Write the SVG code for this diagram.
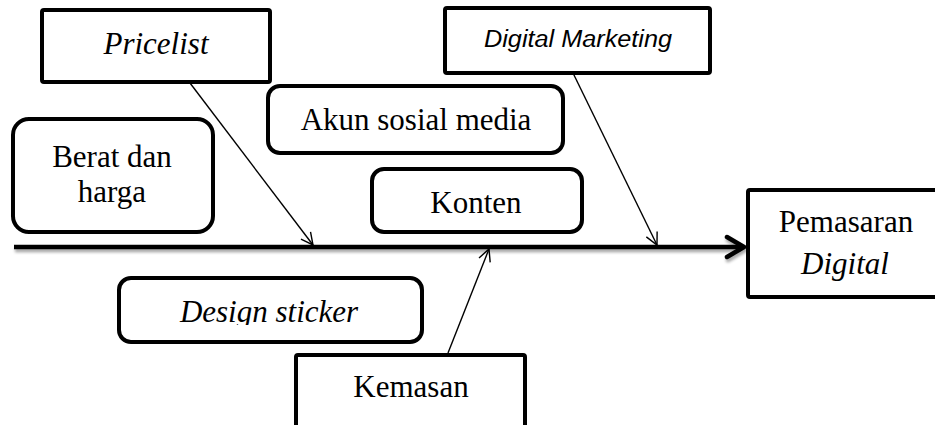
<svg xmlns="http://www.w3.org/2000/svg" width="935" height="425" viewBox="0 0 935 425">
  <style>
    .box { fill: #fff; stroke: #000; stroke-width: 4; }
    .serif { font-family: "Liberation Serif", "Times New Roman", serif; font-size: 31px; fill: #000; }
    .it { font-style: italic; }
    .sans { font-family: "Liberation Sans", Arial, sans-serif; font-size: 23px; font-style: italic; fill: #000; }
    .thin { fill: none; stroke: #000; stroke-width: 1.4; }
  </style>
  <defs>
    <marker id="open" viewBox="0 0 14 14" refX="13" refY="7" markerWidth="14" markerHeight="14" markerUnits="userSpaceOnUse" orient="auto">
      <path d="M1,1 L13,7 L1,13" fill="none" stroke="#000" stroke-width="1.4"/>
    </marker>
    <filter id="shadow" x="-5%" y="-50%" width="110%" height="300%">
      <feGaussianBlur in="SourceAlpha" stdDeviation="1.5"/>
      <feOffset dx="1" dy="3" result="b"/>
      <feComponentTransfer><feFuncA type="linear" slope="0.35"/></feComponentTransfer>
      <feMerge><feMergeNode/><feMergeNode in="SourceGraphic"/></feMerge>
    </filter>
    <clipPath id="stickerClip">
      <rect x="118" y="277" width="304" height="48"/>
    </clipPath>
  </defs>

  <!-- spine of the diagram -->
  <g id="connectors">
    <g filter="url(#shadow)">
      <line x1="14" y1="247" x2="743" y2="247" stroke="#000" stroke-width="4.5"/>
      <path d="M727,237 L744,247 L727,257" fill="none" stroke="#000" stroke-width="4.5" stroke-linecap="round" stroke-linejoin="round"/>
    </g>
    <line class="thin" x1="190" y1="83" x2="313" y2="245" marker-end="url(#open)"/>
    <line class="thin" x1="573" y1="73" x2="657" y2="245" marker-end="url(#open)"/>
    <line class="thin" x1="448" y1="353" x2="489" y2="249" marker-end="url(#open)"/>
  </g>

  <g id="pricelist">
    <rect class="box" x="42" y="10" width="228" height="72" rx="2"/>
    <text class="serif it" x="156" y="54" text-anchor="middle">Pricelist</text>
  </g>

  <g id="berat-harga">
    <rect class="box" x="13" y="119" width="200" height="113" rx="16"/>
    <text class="serif" x="112" y="167" text-anchor="middle">Berat dan</text>
    <text class="serif" x="112" y="202" text-anchor="middle">harga</text>
  </g>

  <g id="akun-sosial-media">
    <rect class="box" x="268" y="86" width="295" height="67" rx="12"/>
    <text class="serif" x="416" y="130" text-anchor="middle">Akun sosial media</text>
  </g>

  <g id="konten">
    <rect class="box" x="372" y="169" width="210" height="63" rx="12"/>
    <text class="serif" x="476" y="213" text-anchor="middle">Konten</text>
  </g>

  <g id="digital-marketing">
    <rect class="box" x="445" y="8" width="265" height="65" rx="2"/>
    <text class="sans" x="578" y="47" text-anchor="middle" textLength="188" lengthAdjust="spacingAndGlyphs">Digital Marketing</text>
  </g>

  <g id="pemasaran-digital">
    <rect class="box" x="748" y="190" width="195" height="107" rx="2"/>
    <text class="serif" x="846" y="232" text-anchor="middle">Pemasaran</text>
    <text class="serif it" x="845" y="274" text-anchor="middle">Digital</text>
  </g>

  <g id="design-sticker">
    <rect class="box" x="119" y="278" width="303" height="64" rx="12"/>
    <text class="serif it" x="269" y="322" text-anchor="middle" clip-path="url(#stickerClip)">Design sticker</text>
  </g>

  <g id="kemasan">
    <rect class="box" x="296" y="355" width="229" height="80" rx="2"/>
    <text class="serif" x="411" y="397" text-anchor="middle">Kemasan</text>
  </g>
</svg>
